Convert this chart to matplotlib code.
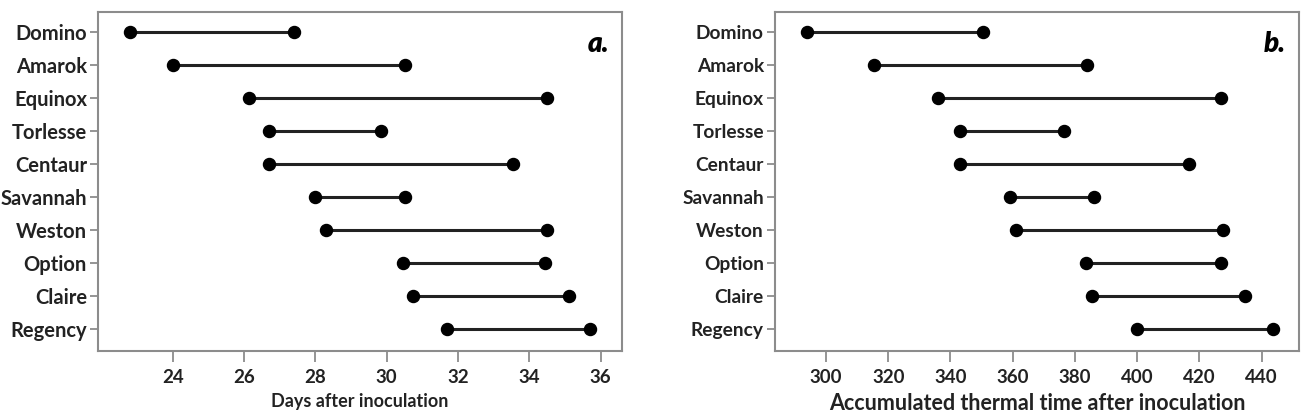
import matplotlib
matplotlib.use("Agg")
import matplotlib.pyplot as plt

cultivars = ["Domino", "Amarok", "Equinox", "Torlesse", "Centaur",
             "Savannah", "Weston", "Option", "Claire", "Regency"]
days_start = [22.8, 24.0, 26.15, 26.7, 26.7, 28.0, 28.3, 30.45, 30.75, 31.7]
days_end = [27.4, 30.5, 34.5, 29.85, 33.55, 30.5, 34.5, 34.45, 35.1, 35.7]
tt_start = [294, 315.5, 336, 343, 343, 359, 361, 383.5, 385.5, 400]
tt_end = [350.5, 384, 427, 376.5, 416.5, 386, 427.5, 427, 434.5, 443.5]
days_ticks = [24, 26, 28, 30, 32, 34, 36]
tt_ticks = [300, 320, 340, 360, 380, 400, 420, 440]

plt.rcParams['font.family'] = ['Lato', 'DejaVu Sans']

fig = plt.figure(figsize=(13.01, 4.20), dpi=100)
W, H = 1301, 420
axA = fig.add_axes([98 / W, 1 - 351 / H, (622 - 98) / W, (351 - 12) / H])
axB = fig.add_axes([775 / W, 1 - 351 / H, (1299 - 775) / W, (351 - 12) / H])

frame_col = "#8c8c8c"
ypos = list(range(len(cultivars)))

def draw(ax, s, e, ticks, xlim, xlabel, tag, yfs, xtfs, xfs):
    for y, a, b in zip(ypos, s, e):
        ax.plot([a, b], [y, y], color="#222222", lw=2.2, zorder=2)
    ax.scatter(s, ypos, s=75, color="black", zorder=3)
    ax.scatter(e, ypos, s=75, color="black", zorder=3)
    ax.set_yticks(ypos)
    ax.set_yticklabels(cultivars)
    ax.set_ylim(9.67, -0.62)
    ax.set_xticks(ticks)
    ax.set_xlim(*xlim)
    ax.set_xlabel(xlabel, fontsize=xfs, color="#222222", labelpad=5)
    for sp in ax.spines.values():
        sp.set_color(frame_col)
        sp.set_linewidth(1.5)
    ax.tick_params(axis="both", colors=frame_col, labelcolor="#222222", width=1.3)
    ax.tick_params(axis="x", length=8, pad=5, labelsize=xtfs)
    ax.tick_params(axis="y", length=6, pad=2, labelsize=yfs)
    for lab in ax.get_xticklabels() + ax.get_yticklabels():
        lab.set_fontweight("bold")
    ax.xaxis.label.set_fontweight("bold")
    ax.text(0.975, 0.945, tag, transform=ax.transAxes, ha="right", va="top",
            fontsize=20, fontweight="heavy", fontstyle="italic", color="black")

draw(axA, days_start, days_end, days_ticks, (21.9, 36.6),
     "Days after inoculation", "a.", 14.5, 13.5, 13)
draw(axB, tt_start, tt_end, tt_ticks, (283.6, 452),
     "Accumulated thermal time after inoculation", "b.", 13.8, 13.5, 15.5)

fig.savefig("out.png", dpi=100)
